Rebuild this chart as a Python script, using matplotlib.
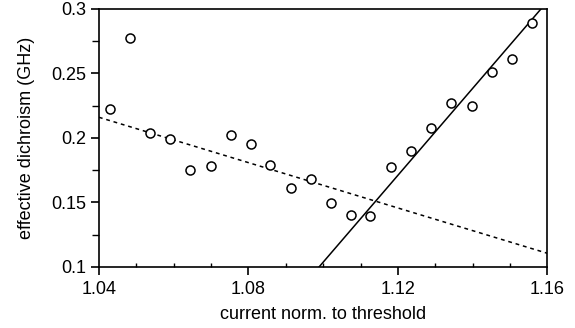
import matplotlib
matplotlib.use('Agg')
import matplotlib.pyplot as plt
from matplotlib.ticker import MultipleLocator

plt.rcParams['font.family'] = ['Liberation Sans', 'DejaVu Sans']

# measured points
current = [1.0429, 1.0484, 1.0537, 1.0591, 1.0645, 1.0699, 1.0753, 1.0806,
           1.0859, 1.0913, 1.0967, 1.1020, 1.1074, 1.1126, 1.1182, 1.1236,
           1.1289, 1.1343, 1.1397, 1.1451, 1.1505, 1.1560]
dichroism = [0.2222, 0.2778, 0.2039, 0.1992, 0.1750, 0.1785, 0.2021, 0.1953,
             0.1788, 0.1610, 0.1685, 0.1498, 0.1403, 0.1398, 0.1773, 0.1902,
             0.2075, 0.2271, 0.2246, 0.2514, 0.2614, 0.2891]

# fit lines (end points)
dash_x = [1.04, 1.16]
dash_y = [0.216, 0.1106]
solid_x = [1.0989, 1.1583]
solid_y = [0.1, 0.3]

fig = plt.figure(figsize=(5.75, 3.28), dpi=100)
ax = fig.add_axes([0.172, 0.186, 0.78, 0.787])

ax.plot(dash_x, dash_y, color='k', linestyle=(0, (2.5, 2.5)), linewidth=1.1)
ax.plot(solid_x, solid_y, color='k', linewidth=1.1)
ax.plot(current, dichroism, 'o', markerfacecolor='white', markeredgecolor='k',
        markersize=6.5, markeredgewidth=1.1, linestyle='none')

ax.set_xlim(1.04, 1.16)
ax.set_ylim(0.1, 0.3)
ax.set_xticks([1.04, 1.08, 1.12, 1.16])
ax.set_xticklabels(['1.04', '1.08', '1.12', '1.16'])
ax.set_yticks([0.1, 0.15, 0.2, 0.25, 0.3])
ax.set_yticklabels(['0.1', '0.15', '0.2', '0.25', '0.3'])
ax.xaxis.set_minor_locator(MultipleLocator(0.01))
ax.yaxis.set_minor_locator(MultipleLocator(0.025))

ax.tick_params(axis='x', which='major', direction='out', length=6, width=1.2, labelsize=13, pad=4)
ax.tick_params(axis='x', which='minor', direction='in', length=3, width=1)
ax.tick_params(axis='y', which='major', direction='out', length=6, width=1.2, labelsize=13, pad=3)
ax.tick_params(axis='y', which='minor', direction='out', length=5, width=1)
for s in ax.spines.values():
    s.set_linewidth(1.2)

ax.set_xlabel('current norm. to threshold', fontsize=13, labelpad=6)
ax.set_ylabel('effective dichroism (GHz)', fontsize=13, labelpad=12)

fig.savefig('out.png', dpi=100)
